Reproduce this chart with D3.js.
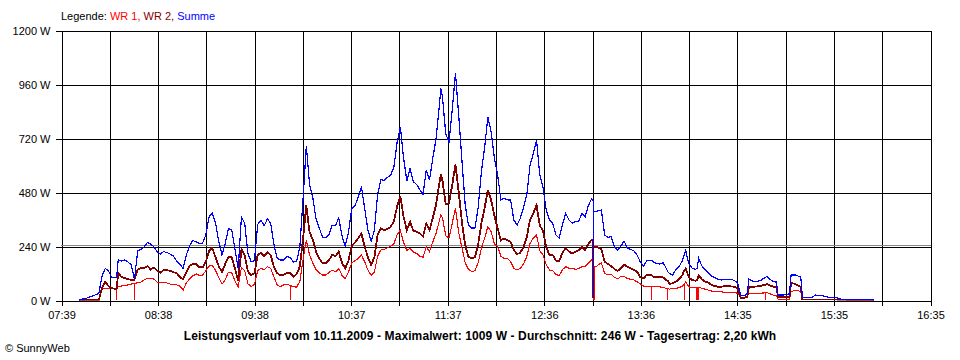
<!DOCTYPE html>
<html><head><meta charset="utf-8">
<script src="https://cdn.jsdelivr.net/npm/d3@7"></script>
<style>
html,body{margin:0;padding:0;background:#fff;}
svg{display:block;}
text{font-family:"Liberation Sans",Arial,sans-serif;}
</style></head><body>
<svg id="chart" width="960" height="360"></svg>
<script>
// ---------- DATA ----------
const times = [
 "07:50","07:52","07:54","07:56","07:58",
 "08:00","08:02","08:04","08:06","08:08","08:10","08:12","08:13","08:13","08:13","08:14","08:16","08:18","08:20","08:22","08:24","08:24","08:24","08:26","08:28","08:30","08:32","08:34","08:36","08:38","08:40","08:42","08:44","08:46","08:48","08:50","08:52","08:54","08:56","08:58",
 "09:00","09:02","09:04","09:06","09:08","09:10","09:12","09:14","09:16","09:18","09:20","09:22","09:24","09:26","09:28","09:30","09:32","09:34","09:36","09:38","09:40","09:42","09:44","09:46","09:48","09:50","09:52","09:54","09:56","09:58",
 "10:00","10:00","10:00","10:02","10:04","10:06","10:08","10:10","10:12","10:14","10:16","10:18","10:20","10:22","10:24","10:26","10:28","10:30","10:32","10:34","10:36","10:38","10:40","10:42","10:44","10:46","10:48","10:50","10:52","10:54","10:56","10:58",
 "11:00","11:02","11:04","11:06","11:08","11:10","11:12","11:14","11:16","11:18","11:20","11:22","11:24","11:26","11:28","11:30","11:32","11:33","11:34","11:36","11:38","11:40","11:42","11:44","11:46","11:48","11:50","11:52","11:54","11:56","11:58",
 "12:00","12:02","12:04","12:06","12:08","12:10","12:12","12:14","12:16","12:18","12:20","12:22","12:24","12:26","12:28","12:30","12:32","12:34","12:36","12:38","12:40","12:42","12:44","12:46","12:48","12:50","12:52","12:54","12:56","12:58",
 "13:00","13:02","13:04","13:06","13:07","13:07","13:07","13:08","13:08","13:08","13:09","13:10","13:12","13:14","13:16","13:18","13:20","13:22","13:24","13:26","13:28","13:30","13:32","13:34","13:36","13:38","13:40","13:42","13:43","13:43","13:43","13:44","13:46","13:48","13:50","13:52","13:53","13:53","13:53","13:54","13:56","13:58",
 "14:00","14:02","14:03","14:03","14:03","14:04","14:06","14:08","14:10","14:11","14:11","14:11","14:12","14:12","14:12","14:14","14:16","14:18","14:20","14:22","14:24","14:26","14:28","14:30","14:32","14:34","14:36","14:38","14:40","14:42","14:43","14:46","14:50","14:53","14:53","14:53","14:54","14:58",
 "15:00","15:01","15:04","15:08","15:09","15:12","15:15","15:16","15:18","15:22","15:24","15:28","15:32","15:36","15:40","15:44","15:56",
 "16:00"
];
const summe = [
 0,4,7,12,18,
 23,29,106,141,129,100,98,102,102,102,178,173,178,169,156,92,92,92,219,224,236,255,249,236,215,204,215,211,204,196,173,160,140,200,241,
 265,258,251,253,289,369,387,343,259,200,252,318,312,225,140,369,340,207,170,175,335,355,330,360,341,248,185,178,178,192,
 190,190,190,169,170,235,450,685,515,455,360,320,279,276,290,333,330,365,285,240,300,405,418,458,504,407,311,260,310,470,535,532,
 545,555,590,700,770,630,530,585,526,514,490,470,578,533,630,715,860,940,900,740,700,844,1009,820,620,422,333,320,320,410,570,
 680,812,748,630,556,445,452,445,444,356,333,363,412,467,600,650,711,556,500,400,356,340,289,275,335,385,356,341,348,350,
 385,370,420,450,440,15,392,392,392,392,392,397,400,289,279,281,237,220,240,262,230,225,219,200,170,151,175,175,175,175,175,170,163,160,166,141,125,125,125,118,111,136,
 150,175,200,200,200,220,160,141,136,140,140,140,185,185,185,151,136,121,107,99,92,89,92,92,93,86,77,20,18,30,92,81,86,100,100,100,104,81,
 80,22,22,27,111,111,101,13,12,12,22,19,12,12,4,2,3,
 0
];
const wr2 = [
 0,0,0,0,0,
 0,0,53,80,62,52,50,50,50,50,120,102,98,93,89,90,90,90,136,141,141,151,136,145,130,121,133,133,129,124,119,102,93,124,151,
 160,160,145,145,169,218,231,190,150,125,160,192,190,140,85,225,200,126,111,118,200,210,195,212,200,148,119,111,111,121,
 121,121,121,104,115,148,275,420,300,270,215,185,163,163,178,200,195,215,165,140,175,240,255,275,296,237,190,156,190,290,318,310,
 315,325,350,415,460,370,310,348,308,304,297,282,341,311,365,422,515,560,530,425,430,511,602,480,345,244,193,185,190,248,341,
 410,489,444,375,319,265,274,267,259,222,204,210,237,281,356,385,422,333,305,235,200,200,175,172,210,230,215,207,215,222,
 235,222,250,267,262,10,237,237,237,237,237,234,225,170,160,151,138,130,140,158,148,141,133,126,100,96,112,111,111,111,111,104,104,102,101,89,85,85,85,72,74,81,
 95,110,130,130,130,140,100,89,86,88,88,88,110,110,110,92,81,77,67,62,59,59,62,62,60,59,52,10,10,15,59,59,62,68,68,68,71,59,
 58,13,13,12,77,70,59,2,2,2,2,2,2,2,1,0,0,
 0
];
const wr1 = [
 0,0,0,0,0,
 0,0,52,53,52,52,50,50,0,50,62,62,64,67,71,72,0,74,76,80,89,96,96,93,80,76,76,76,71,69,67,62,44,76,93,
 107,116,109,111,130,151,153,132,100,70,90,124,120,85,58,145,130,72,59,70,130,140,135,148,141,104,67,59,67,71,
 65,0,65,59,57,82,180,265,200,165,135,120,111,111,122,133,125,140,110,95,125,165,175,185,200,170,133,110,125,195,222,225,
 232,238,250,290,310,255,220,230,213,207,195,190,237,215,258,296,350,380,365,285,275,341,407,300,232,166,136,126,130,165,230,
 275,326,304,250,237,195,185,185,170,141,133,141,160,193,252,275,289,219,200,158,133,130,114,108,135,148,141,141,136,140,
 148,148,165,178,175,0,150,150,0,150,150,156,165,119,111,116,101,94,104,104,96,92,89,81,72,62,60,62,61,0,61,62,62,58,56,52,52,0,50,48,52,52,
 55,62,70,0,70,80,58,56,56,56,0,56,56,0,56,52,48,44,40,37,37,36,34,34,33,33,30,10,8,15,30,27,30,32,0,32,33,22,
 22,3,3,3,37,44,37,2,2,2,2,2,2,2,1,0,0,
 0
];
const xTickLabels = ["07:39","08:38","09:38","10:37","11:37","12:36","13:36","14:35","15:35","16:35"];
const yTickValues = [0,240,480,720,960,1200];
const average = 246;
const seriesNames = ["WR 1","WR 2","Summe"];
const seriesColors = ["#ff0000","#800000","#0000ff"];
const titleText = "Leistungsverlauf vom 10.11.2009 - Maximalwert: 1009 W - Durchschnitt: 246 W - Tagesertrag: 2,20 kWh";
const copyrightText = "\u00a9 SunnyWeb";

if (times.length !== summe.length || times.length !== wr1.length || times.length !== wr2.length)
  console.error("length mismatch", times.length, summe.length, wr1.length, wr2.length);

// ---------- LAYOUT ----------
const L = 61, R = 930, T = 30, B = 300;
const toMin = s => { const p = s.split(":").map(Number); return p[0]*60 + p[1]; };
const t0 = toMin(xTickLabels[0]), t1 = toMin(xTickLabels[xTickLabels.length-1]);

const x = d3.scaleLinear().domain([t0, t1]).range([L, R]);
const y = d3.scaleLinear().domain([0, 1200]).range([B, T]);

const svg = d3.select("#chart");
svg.append("rect").attr("width",960).attr("height",360).attr("fill","#fff");

const nGrid = 18;
const gridVals = d3.range(nGrid+1).map(i => t0 + i*(t1-t0)/nGrid);
const FONT = "'Liberation Sans',Arial,sans-serif";

// horizontal gridlines + y ticks
const yAxis = d3.axisLeft(y).tickValues(yTickValues).tickSize(-(R-L)).tickSizeOuter(0)
  .tickPadding(11).tickFormat(d => d + " W");
const yg = svg.append("g").attr("transform",`translate(${L+0.5},0.5)`).call(yAxis);
yg.select(".domain").remove();
yg.selectAll(".tick line").attr("stroke","#000").attr("x1",-6).attr("shape-rendering","crispEdges");
yg.selectAll(".tick text").attr("font-size",11).attr("fill","#000").attr("font-family",FONT);

// vertical gridlines + x ticks
const xAxis = d3.axisBottom(x).tickValues(gridVals).tickSize(-(B-T)).tickSizeOuter(0)
  .tickPadding(11).tickFormat((d,i) => i % 2 === 0 ? xTickLabels[i/2] : "");
const xg = svg.append("g").attr("transform",`translate(0.5,${B+0.5})`).call(xAxis);
xg.select(".domain").remove();
xg.selectAll(".tick line").attr("stroke","#000").attr("y1",5).attr("shape-rendering","crispEdges");
xg.selectAll(".tick text").attr("font-size",11).attr("fill","#000").attr("font-family",FONT);

// average line (grey, directly above the 240 W gridline)
const ya = Math.round(y(average)) + 0.5;
svg.append("line").attr("x1",L).attr("x2",R+1)
  .attr("y1",ya).attr("y2",ya)
  .attr("stroke","#888888").attr("stroke-width",1.2).attr("shape-rendering","crispEdges");

// series
svg.append("clipPath").attr("id","clip").append("rect")
  .attr("x",L).attr("y",T-5).attr("width",R-L).attr("height",B-T+5.5);
const seriesData = [wr1, wr2, summe];
const widths = [1.1, 1.8, 1.2];
seriesData.forEach((vals, k) => {
  const pts = times.map((t,i) => [toMin(t), vals[i]]);
  const line = d3.line().x(d => x(d[0]) + 0.5).y(d => y(d[1])).curve(d3.curveLinear);
  svg.append("path").attr("d", line(pts)).attr("fill","none")
    .attr("stroke", seriesColors[k]).attr("stroke-width", widths[k])
    .attr("stroke-linejoin","miter").attr("shape-rendering","crispEdges")
    .attr("clip-path","url(#clip)");
});

// legend
const lg = svg.append("text").attr("x",L).attr("y",20).attr("font-size",11);
lg.append("tspan").attr("fill","#000").text("Legende: ");
seriesNames.forEach((n,k) => {
  lg.append("tspan").attr("fill", seriesColors[k]).text(n + (k < seriesNames.length-1 ? ", " : ""));
});

// title
svg.append("text").attr("x",480).attr("y",340).attr("text-anchor","middle")
  .attr("font-size",12).attr("font-weight","bold").attr("letter-spacing",0.1)
  .attr("fill","#000").text(titleText);

// copyright
svg.append("text").attr("x",5).attr("y",352).attr("font-size",11).attr("fill","#000").text(copyrightText);
</script>
</body></html>
